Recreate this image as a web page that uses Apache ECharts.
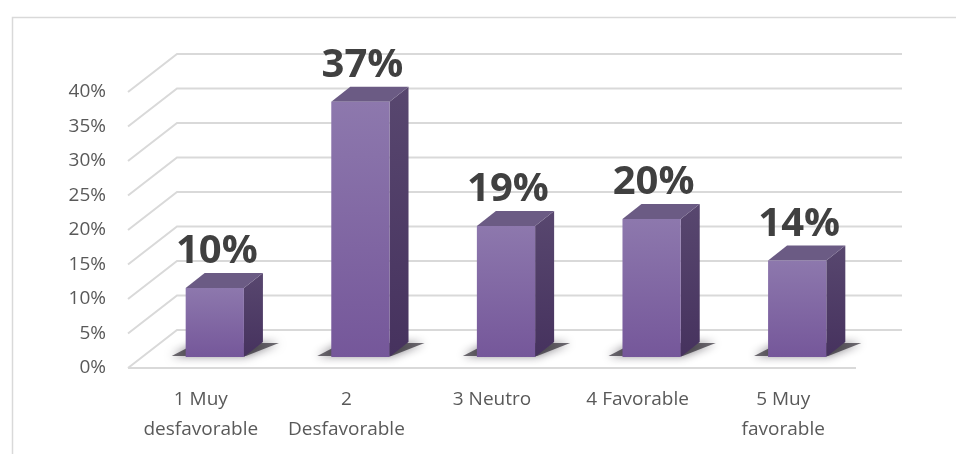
<!DOCTYPE html>
<html>
<head>
<meta charset="utf-8">
<script src="https://cdn.jsdelivr.net/npm/echarts@6/dist/echarts.min.js"></script>
<style>
  html, body { margin: 0; padding: 0; background: #fff; }
  #main { width: 956px; height: 454px; }
</style>
</head>
<body>
<div id="main"></div>
<script>
// datos
var categories = ['1 Muy\ndesfavorable', '2\nDesfavorable', '3 Neutro', '4 Favorable', '5 Muy\nfavorable'];
var values = [10, 37, 19, 20, 14];
var yTicks = [0, 5, 10, 15, 20, 25, 30, 35, 40];

// profundidad del "3D"
var WALL_DX = 49, WALL_DY = -38;   // pared del fondo
var BAR_OX = 14, BAR_OY = -11;     // plano de las barras
var BAR_DX = 19, BAR_DY = -15;     // fondo de cada barra

var myChart = echarts.init(document.getElementById('main'));

function renderGrid(params, api) {
    var cs = params.coordSys;
    var y = api.coord([0, api.value(1)])[1];
    var style = { stroke: '#d9d9d9', lineWidth: 2, fill: null };
    var children = [{
        type: 'polyline',
        shape: { points: [[cs.x, y], [cs.x + WALL_DX, y + WALL_DY], [cs.x + cs.width + WALL_DX - 3, y + WALL_DY]] },
        style: style
    }];
    if (api.value(1) === 0) {
        children.push({
            type: 'line',
            shape: { x1: cs.x, y1: y, x2: cs.x + cs.width, y2: y },
            style: style
        });
    }
    return { type: 'group', children: children };
}

function renderBar(params, api) {
    var base = api.coord([api.value(0), 0]);
    var top = api.coord([api.value(0), api.value(1)]);
    var w = api.size([1, 0])[0] * 0.4;
    var xl = base[0] + BAR_OX - w / 2;
    var xr = xl + w;
    var yb = base[1] + BAR_OY;
    var yt = top[1] + BAR_OY;
    return {
        type: 'group',
        children: [
            { // sombra
                type: 'polygon',
                shape: { points: [[xl - 14, yb - 1], [xr + 2, yb - 1], [xr + BAR_DX + 16, yb + BAR_DY + 1], [xl + BAR_DX - 8, yb + BAR_DY + 1]] },
                style: { fill: 'rgba(20,15,25,0.6)', shadowBlur: 10, shadowColor: 'rgba(20,15,25,0.9)' }
            },
            { // lado
                type: 'polygon',
                shape: { points: [[xr, yt], [xr + BAR_DX, yt + BAR_DY], [xr + BAR_DX, yb + BAR_DY], [xr, yb]] },
                style: { fill: new echarts.graphic.LinearGradient(0, 0, 0, 1, [
                    { offset: 0, color: '#58476f' }, { offset: 1, color: '#46325e' }]) }
            },
            { // tapa
                type: 'polygon',
                shape: { points: [[xl, yt], [xl + BAR_DX, yt + BAR_DY], [xr + BAR_DX, yt + BAR_DY], [xr, yt]] },
                style: { fill: '#6b5b84' }
            },
            { // frente
                type: 'rect',
                shape: { x: xl, y: yt, width: w, height: yb - yt },
                style: { fill: new echarts.graphic.LinearGradient(0, 0, 0, 1, [
                    { offset: 0, color: '#8d78ad' }, { offset: 1, color: '#75579a' }]) }
            },
            {
                type: 'text',
                style: {
                    text: api.value(1) + '%',
                    x: xl + w / 2 + 2,
                    y: yt + BAR_DY - 1,
                    align: 'center',
                    verticalAlign: 'bottom',
                    fontFamily: 'Open Sans',
                    fontWeight: 'bold',
                    fontSize: 40,
                    fill: '#404040'
                }
            }
        ]
    };
}

myChart.setOption({
    animation: false,
    graphic: [{
        type: 'rect',
        left: 10, top: 15,
        shape: { width: 1000, height: 500 },
        style: { fill: null, stroke: '#d9d9d9', lineWidth: 1.5 },
        silent: true
    }],
    grid: { left: 128, right: 100, top: 92, bottom: 86 },
    xAxis: {
        type: 'category',
        data: categories,
        axisLine: { show: false },
        axisTick: { show: false },
        axisLabel: {
            interval: 0,
            margin: 17,
            fontFamily: 'Open Sans',
            fontSize: 19,
            lineHeight: 30,
            color: '#595959'
        }
    },
    yAxis: {
        type: 'value',
        min: 0,
        max: 40,
        interval: 5,
        axisLine: { show: false },
        axisTick: { show: false },
        splitLine: { show: false },
        axisLabel: {
            margin: 22,
            formatter: '{value}%',
            fontFamily: 'Open Sans',
            fontSize: 19,
            color: '#595959'
        }
    },
    series: [
        {
            type: 'custom',
            silent: true,
            z: 1,
            renderItem: renderGrid,
            encode: { x: 0, y: 1 },
            data: yTicks.map(function (v) { return [0, v]; })
        },
        {
            type: 'custom',
            z: 2,
            renderItem: renderBar,
            encode: { x: 0, y: 1 },
            data: values.map(function (v, i) { return [i, v]; })
        }
    ]
});
</script>
</body>
</html>
